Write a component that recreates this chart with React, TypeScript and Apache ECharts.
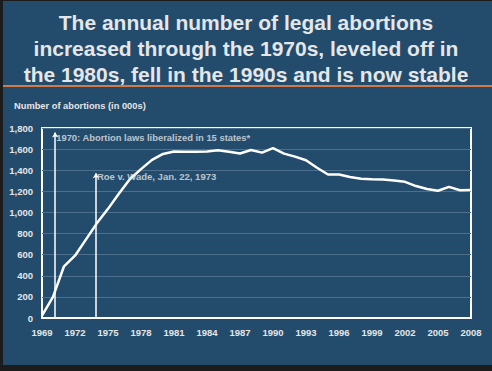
import React, { useEffect, useRef } from "react";
import * as echarts from "echarts";

const years = [
  "1969", "1970", "1971", "1972", "1973", "1974", "1975", "1976", "1977", "1978",
  "1979", "1980", "1981", "1982", "1983", "1984", "1985", "1986", "1987", "1988",
  "1989", "1990", "1991", "1992", "1993", "1994", "1995", "1996", "1997", "1998",
  "1999", "2000", "2001", "2002", "2003", "2004", "2005", "2006", "2007", "2008",
];
const abortions = [
  23, 200, 490, 590, 745, 899, 1034, 1179, 1317, 1410,
  1498, 1554, 1577, 1574, 1575, 1577, 1589, 1574, 1559, 1591,
  1567, 1609, 1557, 1529, 1495, 1423, 1359, 1360, 1335, 1319,
  1315, 1313, 1303, 1290, 1250, 1222, 1206, 1242, 1210, 1212,
];
const annotationYears = [1970.2, 1973.9];
const annotationTops = [1758, 1372];
const annotationLabelValues = [1712, 1338];
const annotationTexts = [
  "1970: Abortion laws liberalized in 15 states*",
  "Roe v. Wade, Jan. 22, 1973",
];
const annotationFontSizes = [9.4, 9.5];
const titleLines = [
  "The annual number of legal abortions",
  "increased through the 1970s, leveled off in",
  "the 1980s, fell in the 1990s and is now stable",
];
const yAxisTitle = "Number of abortions (in 000s)";

const FONT = "'Liberation Sans', Arial, sans-serif";
const BLUE = "#234b6c";
const TEXT = "#e4e6e8";

export default function App() {
  const ref = useRef<HTMLDivElement>(null);
  useEffect(() => {
    if (!ref.current) return;
    const chart = echarts.init(ref.current, undefined, { renderer: "svg" });
    chart.setOption({
      animation: false,
      backgroundColor: "#1c1c1c",
      title: {
        text: titleLines.join("\n"),
        left: "center",
        top: 4,
        textStyle: {
          color: TEXT,
          fontFamily: FONT,
          fontWeight: "bold",
          fontSize: 21,
          lineHeight: 26,
        },
      },
      graphic: [
        { type: "rect", z: -10, shape: { x: 3, y: 1, width: 489, height: 364 }, style: { fill: BLUE } },
        { type: "line", shape: { x1: 3, y1: 86, x2: 492, y2: 86 }, style: { stroke: "#d47a48", lineWidth: 2 } },
        {
          type: "text",
          x: 14,
          y: 106,
          style: {
            text: yAxisTitle,
            fill: TEXT,
            font: `bold 9.3px ${FONT}`,
            verticalAlign: "middle",
          },
        },
      ],
      grid: {
        left: 42,
        right: 21,
        top: 128,
        bottom: 53,
        show: true,
        borderColor: "#ffffff",
        borderWidth: 2,
        backgroundColor: "transparent",
      },
      xAxis: [
        {
          type: "category",
          data: years,
          boundaryGap: false,
          axisLine: { show: true, lineStyle: { color: "#ffffff", width: 2 } },
          axisTick: { show: false },
          axisLabel: {
            interval: 2,
            color: TEXT,
            fontFamily: FONT,
            fontWeight: "bold",
            fontSize: 9.5,
            margin: 9,
          },
          splitLine: { show: false },
        },
        { type: "value", min: 1969, max: 2008, show: false },
      ],
      yAxis: {
        type: "value",
        min: 0,
        max: 1800,
        interval: 200,
        axisLine: { show: false },
        axisTick: { show: false },
        axisLabel: {
          color: TEXT,
          fontFamily: FONT,
          fontWeight: "bold",
          fontSize: 9.5,
          margin: 9,
          formatter: (v: number) => v.toLocaleString("en-US"),
        },
        splitLine: { lineStyle: { color: "#4d6f8e", width: 1 } },
      },
      series: [
        {
          type: "line",
          data: abortions,
          symbol: "none",
          lineStyle: { color: "#ffffff", width: 2.5 },
          z: 3,
        },
        {
          type: "lines",
          coordinateSystem: "cartesian2d",
          xAxisIndex: 1,
          yAxisIndex: 0,
          symbol: ["none", "arrow"],
          symbolSize: 5,
          lineStyle: { color: "#ffffff", width: 1.5, opacity: 1 },
          data: annotationYears.map((x, i) => ({ coords: [[x, 0], [x, annotationTops[i]]] })),
          z: 2,
        },
        {
          type: "scatter",
          xAxisIndex: 1,
          yAxisIndex: 0,
          symbolSize: 0,
          silent: true,
          data: annotationYears.map((x, i) => ({
            value: [x, annotationLabelValues[i]],
            name: annotationTexts[i],
            label: { fontSize: annotationFontSizes[i] },
          })),
          label: {
            show: true,
            position: "right",
            distance: 1,
            formatter: (p: any) => p.name,
            color: TEXT,
            fontFamily: FONT,
            fontWeight: "bold",
            fontSize: 10,
          },
          z: 5,
        },
      ],
    });
    return () => chart.dispose();
  }, []);
  return (
    <div
      ref={ref}
      style={{ position: "fixed", left: 0, top: 0, width: 492, height: 371 }}
    />
  );
}
